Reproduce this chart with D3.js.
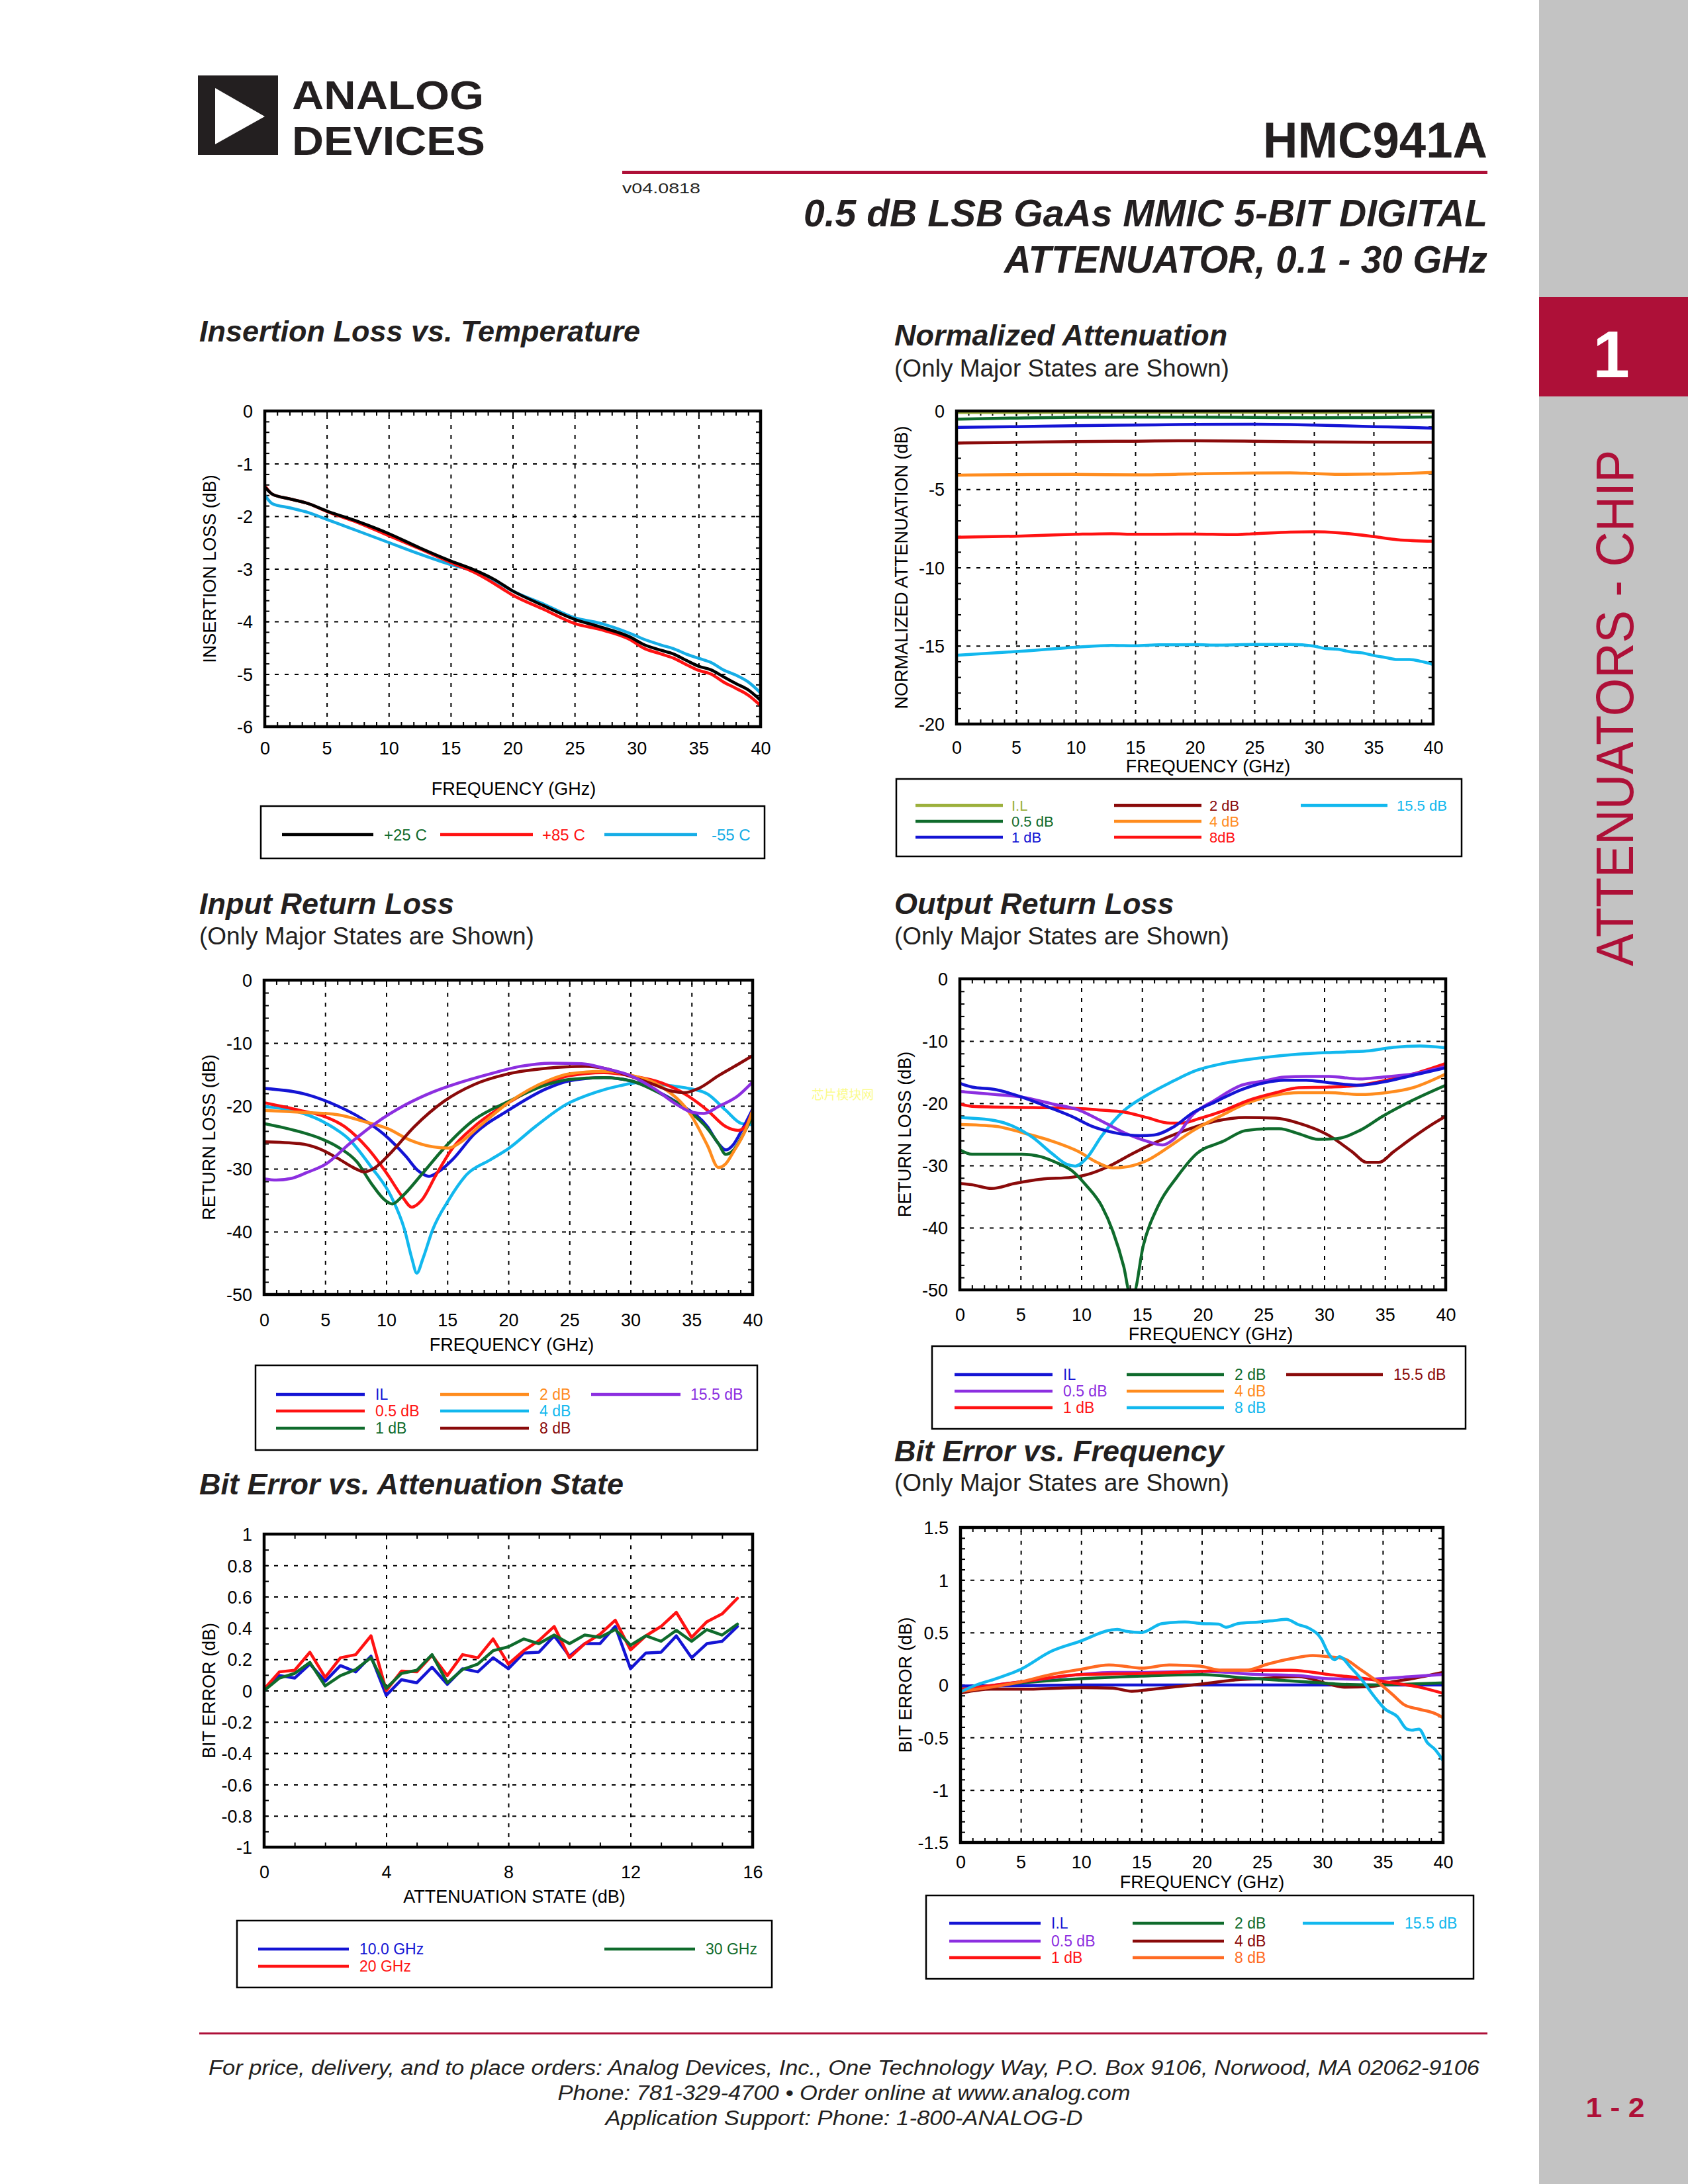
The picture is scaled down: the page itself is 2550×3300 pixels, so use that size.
<!DOCTYPE html>
<html><head><meta charset="utf-8">
<script src="https://cdn.jsdelivr.net/npm/d3@7"></script>
<style>body{margin:0;background:#fff}svg{display:block}</style>
</head><body>
<svg id="page" width="2550" height="3300"></svg>
<script>
// ---------------- DATA ----------------
// Insertion Loss vs Temperature  [GHz, dB]
const ilLabels = ['+25 C', '+85 C', '-55 C'];
const il25 = [[0.1,-1.47],[0.6,-1.58],[2,-1.67],[3.5,-1.76],[5,-1.9],[7.5,-2.1],[10,-2.33],[12.5,-2.6],[15,-2.85],[17,-3.03],[18.5,-3.2],[20,-3.42],[22.5,-3.7],[25,-3.96],[27,-4.1],[29.5,-4.3],[30.5,-4.43],[32,-4.55],[33,-4.62],[34,-4.74],[35,-4.85],[36,-4.92],[37,-5.05],[38,-5.18],[39,-5.3],[40,-5.5]];
const il85 = [[0.1,-1.45],[0.6,-1.58],[2,-1.67],[3.5,-1.76],[5,-1.91],[7.5,-2.12],[10,-2.37],[12.5,-2.62],[15,-2.88],[17,-3.08],[18.5,-3.28],[20,-3.5],[22.5,-3.77],[25,-4.04],[27,-4.15],[29.5,-4.35],[30.5,-4.5],[32,-4.62],[33,-4.7],[34,-4.82],[35,-4.93],[36,-5.0],[37,-5.15],[38,-5.27],[39,-5.4],[40,-5.6]];
const il55 = [[0.1,-1.63],[0.6,-1.76],[2,-1.84],[3.5,-1.93],[5,-2.06],[7.5,-2.28],[10,-2.5],[12.5,-2.72],[15,-2.92],[17,-3.05],[18.5,-3.22],[20,-3.42],[22.5,-3.67],[25,-3.93],[27,-4.03],[29.5,-4.23],[30.5,-4.33],[32,-4.45],[33,-4.52],[34,-4.62],[35,-4.7],[36,-4.78],[37,-4.92],[38,-5.02],[39,-5.15],[40,-5.36]];

// Normalized Attenuation [GHz, dB]
const naLabels = ['I.L', '0.5 dB', '1 dB', '2 dB', '4 dB', '8dB', '15.5 dB'];
const naIL  = [[0.1,-0.1],[10,-0.08],[20,-0.08],[30,-0.09],[40,-0.07]];
const na05  = [[0.1,-0.52],[5,-0.45],[10,-0.4],[15,-0.39],[20,-0.39],[25,-0.41],[30,-0.43],[35,-0.42],[40,-0.38]];
const na1   = [[0.1,-1.05],[5,-1.0],[10,-0.94],[15,-0.9],[20,-0.86],[25,-0.85],[28,-0.87],[30,-0.9],[35,-1.0],[38,-1.05],[40,-1.1]];
const na2   = [[0.1,-2.05],[5,-2.0],[10,-1.96],[15,-1.93],[20,-1.9],[25,-1.93],[30,-1.98],[35,-2.0],[40,-2.0]];
const na4   = [[0.1,-4.1],[5,-4.07],[10,-4.05],[15,-4.08],[20,-4.02],[25,-3.96],[28,-3.95],[30,-4.0],[32,-4.05],[35,-4.03],[38,-3.98],[40,-3.92]];
const na8   = [[0.1,-8.07],[5,-8.0],[10,-7.88],[13,-7.84],[15,-7.88],[20,-7.86],[23,-7.9],[25,-7.84],[28,-7.74],[30,-7.72],[32,-7.78],[35,-8.02],[37,-8.22],[40,-8.32]];
const na155 = [[0.1,-15.6],[5,-15.37],[10,-15.1],[13,-14.98],[15,-15.0],[17,-14.94],[20,-14.93],[22,-14.96],[25,-14.92],[28,-14.92],[30,-15.02],[31,-15.18],[32,-15.22],[33,-15.38],[34,-15.45],[35,-15.62],[36,-15.75],[37,-15.88],[38,-15.88],[39,-16.0],[40,-16.2]];

// Input Return Loss [GHz, dB]
const irlLabels = ['IL', '0.5 dB', '1 dB', '2 dB', '4 dB', '8 dB', '15.5 dB'];
const irlIL  = [[0,-17.2],[3.5,-18.2],[6,-20],[7.9,-21.9],[9.8,-24.5],[11.6,-28],[12.6,-30.3],[13.5,-31.2],[14.4,-30.3],[15.4,-28.6],[17.2,-24.5],[20,-20.7],[23.2,-17.2],[25,-16],[27.8,-15.5],[30,-16],[32.5,-18],[34.1,-19.8],[36.3,-23.3],[37.2,-26],[37.8,-27],[38.4,-26.2],[39.1,-23.9],[40,-20.5]];
const irl05  = [[0,-19.5],[2.9,-20.7],[4.8,-21.6],[6.6,-23.3],[8.5,-26.8],[10.1,-30.9],[11.3,-34.4],[12.1,-36.1],[12.9,-35],[14.1,-30.9],[15.4,-26.8],[17.2,-23.3],[20,-19.5],[23.2,-16.3],[25,-15.2],[27.8,-14.7],[30,-15.2],[32.5,-16.3],[34.7,-18.4],[36.3,-20.7],[37.8,-23.3],[38.8,-23.9],[39.4,-23.3],[40,-20.7]];
const irl1   = [[0,-22.8],[2.9,-24.1],[4.5,-25.1],[6,-26.5],[7.6,-28.9],[8.8,-32.4],[9.9,-35],[10.5,-35.6],[11.3,-34.4],[12.9,-30.9],[14.7,-26.8],[17.2,-22.2],[20,-19.3],[23.2,-16.6],[25,-15.8],[27.8,-15.5],[30,-16],[32.5,-18.1],[34.7,-20.7],[36.3,-23.6],[37.2,-26],[37.8,-27.7],[38.4,-27.1],[39.1,-25],[40,-21.6]];
const irl2   = [[0,-20.7],[2.9,-21],[6,-21.4],[8.2,-22.5],[10.1,-23.6],[11.9,-25.4],[13.8,-26.5],[15.1,-26.7],[16,-25.9],[17.6,-23.3],[20,-19.5],[23.2,-16],[25,-14.9],[27.8,-14.5],[30,-15.1],[32.5,-16.9],[35,-21.6],[36.3,-26.3],[37.2,-29.8],[37.8,-29.2],[38.4,-27.4],[39.4,-23.9],[40,-20.7]];
const irl4   = [[0,-20.1],[2.9,-21],[5.1,-22.8],[7,-25.4],[8.8,-29.8],[10.4,-34.4],[11.5,-39.7],[12.1,-44.3],[12.5,-46.6],[13,-44.3],[13.8,-39.7],[15.1,-35],[16.6,-30.9],[18.5,-28.6],[20,-26.8],[22.2,-23.3],[24.7,-19.8],[27.2,-17.8],[29.1,-16.8],[30.7,-16.3],[32.5,-16.6],[34.7,-17.2],[36.3,-18.1],[37.8,-20.7],[39.1,-22.8],[40,-23]];
const irl8   = [[0,-25.7],[2.9,-26],[4.5,-26.8],[6,-28.3],[7.3,-29.8],[8.2,-30.5],[9.1,-29.8],[10.4,-27.4],[12.3,-23.3],[14.7,-19.3],[17.2,-16.6],[20,-14.9],[23.2,-14],[26.3,-13.7],[27.8,-14],[30,-15.3],[31.9,-16.6],[33.1,-17.5],[34.4,-17.9],[35.6,-17.2],[37.2,-15.2],[38.8,-13.4],[40,-12]];
const irl155 = [[0,-31.6],[1,-31.8],[2.3,-31.5],[3.5,-30.6],[5.1,-29.2],[7,-26],[9.1,-22.8],[11.6,-19.8],[13.8,-17.8],[16,-16.3],[18.5,-14.9],[21,-13.7],[23.5,-13.2],[26,-13.3],[27.8,-14],[30,-15.2],[31.9,-17.2],[33.8,-19.8],[35,-21],[36,-21.2],[37.2,-20.1],[38.8,-18.4],[40,-16.2]];

// Output Return Loss [GHz, dB]
const orlLabels = ['IL', '0.5 dB', '1 dB', '2 dB', '4 dB', '8 dB', '15.5 dB'];
const orlIL  = [[0,-16.8],[1,-17.4],[2.9,-17.8],[5.1,-19],[7,-20.4],[9.2,-22.1],[11,-23.8],[12.9,-24.8],[14.8,-25.2],[16,-25.1],[17.6,-23.8],[19.2,-21.5],[21,-19.8],[23.2,-17.8],[25.1,-16.7],[26.7,-16.3],[28.5,-16.3],[30.4,-16.7],[32.9,-17.1],[34.8,-16.6],[37.3,-15.5],[40,-14.3]];
const orl05  = [[0,-18.1],[2.9,-18.6],[5.1,-19],[7.6,-20.1],[9.8,-21.1],[11.7,-22.9],[13.5,-24.7],[15.4,-26.1],[16.7,-26.7],[17.6,-25.8],[19.2,-21.8],[21,-19.5],[23.2,-17.1],[25.1,-16.4],[26.7,-15.8],[28.5,-15.7],[30.4,-15.7],[32.9,-16.1],[34.8,-15.8],[37.3,-15.3],[40,-14.1]];
const orl1   = [[0,-20.1],[1,-20.5],[6,-20.7],[9.2,-20.8],[12.3,-21.2],[13.5,-21.4],[15.4,-22.3],[17.3,-23.2],[18.2,-23.2],[19.8,-22.4],[21.7,-21.2],[23.8,-19.5],[26,-18.3],[27.9,-17.5],[30.4,-17.4],[32.9,-17.1],[35.1,-16.3],[37.3,-15.3],[40,-13.6]];
const orl2   = [[0,-27.5],[1,-28.2],[2.9,-28.2],[5.1,-28.2],[6.7,-28.6],[7.9,-29.5],[9.2,-30.8],[10.4,-33.2],[11.7,-36.6],[12.6,-40.6],[13.5,-46.3],[14,-50.5],[14.3,-50.5],[15.1,-42.9],[16.3,-36.6],[17.9,-31.8],[19.5,-28.1],[21.7,-26.1],[23.5,-24.4],[25.4,-24.1],[26.3,-24.1],[27.9,-24.9],[29.5,-25.8],[31,-25.7],[32.9,-24.4],[34.8,-22.1],[37.3,-19.5],[40,-17.1]];
const orl4   = [[0,-23.4],[2.9,-23.7],[5.1,-24.7],[7.6,-26.1],[9.8,-27.8],[11.3,-29.5],[12.6,-30.4],[13.8,-30.2],[15.4,-29.2],[17.3,-26.9],[19.2,-24.4],[21.7,-21.8],[23.5,-20.1],[26,-18.7],[27.9,-18.3],[30.4,-18.3],[32.9,-18.6],[35.1,-18.3],[37.3,-17.5],[40,-15.3]];
const orl8   = [[0,-22.3],[2.9,-22.8],[4.5,-23.8],[6,-25.5],[7.6,-28.1],[8.8,-29.8],[9.5,-30.1],[10.4,-28.9],[11.7,-25.2],[13.5,-21.2],[15.4,-18.7],[17.3,-16.7],[19.5,-14.7],[21.7,-13.6],[24.8,-12.7],[27.9,-12.1],[31,-11.8],[33.5,-11.6],[35.7,-11],[37.9,-10.8],[40,-11.1]];
const orl155 = [[0,-32.9],[1,-33.1],[2.6,-33.7],[4.5,-32.9],[6.7,-32.2],[9.2,-31.9],[10.4,-31.5],[12.3,-30.1],[14.2,-28.1],[16,-26.4],[18.5,-24.4],[21,-22.9],[23.5,-22.3],[26,-22.4],[27.9,-23.2],[30.4,-25.2],[32.3,-27.8],[33.5,-29.5],[34.5,-29.5],[35.7,-27.8],[37.3,-25.5],[38.8,-23.5],[40,-22.1]];

// Bit Error vs Attenuation State
const beLabels = ['10.0 GHz', '20 GHz', '30 GHz'];
const beStates = [0,0.5,1,1.5,2,2.5,3,3.5,4,4.5,5,5.5,6,6.5,7,7.5,8,8.5,9,9.5,10,10.5,11,11.5,12,12.5,13,13.5,14,14.5,15,15.5];
const be10 = [0,0.096,0.08,0.17,0.06,0.16,0.12,0.22,-0.03,0.07,0.05,0.15,0.04,0.14,0.12,0.21,0.14,0.24,0.245,0.35,0.22,0.30,0.30,0.41,0.14,0.24,0.245,0.35,0.21,0.30,0.315,0.41];
const be20 = [0.01,0.12,0.13,0.245,0.085,0.21,0.23,0.35,0.0,0.125,0.12,0.225,0.096,0.23,0.21,0.33,0.17,0.255,0.32,0.41,0.21,0.3,0.36,0.45,0.26,0.35,0.41,0.5,0.34,0.44,0.49,0.59];
const be30 = [0,0.08,0.11,0.18,0.03,0.096,0.135,0.21,0.015,0.11,0.13,0.23,0.05,0.135,0.17,0.255,0.28,0.33,0.30,0.355,0.30,0.355,0.34,0.39,0.29,0.35,0.315,0.385,0.315,0.39,0.355,0.425];

// Bit Error vs Frequency [GHz, dB]
const bfLabels = ['I.L', '0.5 dB', '1 dB', '2 dB', '4 dB', '8 dB', '15.5 dB'];
const bfIL  = [[0.1,-0.01],[10,0],[20,0],[30,0],[40,0]];
const bf05  = [[0.1,-0.04],[5,0.03],[10,0.1],[12.6,0.12],[15,0.12],[20,0.13],[24.8,0.1],[28,0.09],[30.5,0.06],[33.6,0.055],[37.4,0.08],[40,0.1]];
const bf1   = [[0.1,-0.04],[5,0.03],[10,0.1],[15,0.11],[20,0.13],[21.7,0.14],[24.8,0.14],[27.4,0.14],[30.5,0.1],[33.6,0.06],[35.8,0.02],[38,-0.02],[40,-0.08]];
const bf2   = [[0.1,-0.04],[5,0.02],[10,0.06],[15,0.085],[20,0.1],[23.3,0.07],[26.4,0.045],[28.6,0.03],[31.1,0.01],[34.3,0],[37.4,0.01],[40,0.02]];
const bf4   = [[0.1,-0.075],[2.5,-0.04],[5,-0.04],[10,-0.025],[12.6,-0.03],[14.2,-0.06],[16,-0.04],[20,0.01],[23,0.05],[24.8,0.06],[28,0.08],[30.5,0.01],[31.8,-0.02],[34,-0.015],[35.8,0.03],[37.4,0.06],[40,0.12]];
const bf8   = [[0.1,-0.06],[5,0.03],[7.5,0.1],[10,0.15],[12.3,0.19],[13.5,0.18],[15,0.16],[17.3,0.19],[19.8,0.18],[21.7,0.14],[23.6,0.14],[25.5,0.2],[27.4,0.25],[29.2,0.28],[30.5,0.27],[31.8,0.25],[33,0.16],[34.3,0.055],[35.8,-0.09],[36.8,-0.19],[38,-0.23],[39.3,-0.27],[40,-0.31]];
const bf155 = [[0.1,-0.06],[1.3,0],[2.8,0.055],[5,0.15],[7.5,0.32],[10,0.42],[12.3,0.52],[13,0.53],[13.8,0.51],[15,0.5],[16.7,0.585],[18.6,0.6],[20,0.585],[21.4,0.58],[22,0.55],[23,0.585],[24.8,0.6],[26.1,0.615],[27,0.625],[28,0.575],[28.9,0.54],[29.9,0.44],[30.5,0.3],[31,0.24],[31.4,0.27],[32.4,0.16],[33.3,0.045],[34.3,-0.11],[35.2,-0.23],[36.2,-0.3],[37,-0.42],[37.4,-0.43],[38,-0.42],[38.7,-0.55],[39.3,-0.61],[40,-0.72]];

// tick label lists
const freqTicks = [0,5,10,15,20,25,30,35,40];
const ilTicks = [0,-1,-2,-3,-4,-5,-6];
const naTicks = [0,-5,-10,-15,-20];
const rlTicks = [0,-10,-20,-30,-40,-50];
const stateTicks = [0,4,8,12,16];
const beTicks = [1,0.8,0.6,0.4,0.2,0,-0.2,-0.4,-0.6,-0.8,-1];
const bfTicks = [1.5,1,0.5,0,-0.5,-1,-1.5];

// ---------------- STYLE ----------------
const SANS = "'Liberation Sans', Arial, Helvetica, sans-serif";
const NARROW = "'Liberation Sans Narrow', 'Liberation Sans', Arial, sans-serif";
const INK = '#231f20';
const CRIMSON = '#ae1038';
const C = {
  blue:'#1414d4', red:'#ff1212', green:'#0f6b2c', orange:'#ff8c1e', cyan:'#12b8ee',
  dred:'#8a0a0a', purple:'#8c2fe0', olive:'#9cb03c', black:'#000000', orred:'#ff6a22'
};

const svg = d3.select('#page');
svg.append('rect').attr('width',2550).attr('height',3300).attr('fill','#ffffff');

// ---------------- PAGE FURNITURE ----------------
// sidebar
svg.append('rect').attr('x',2325).attr('y',0).attr('width',225).attr('height',3300).attr('fill','#c3c3c3');
svg.append('rect').attr('x',2325).attr('y',449).attr('width',225).attr('height',150).attr('fill',CRIMSON);
svg.append('text').attr('x',2434).attr('y',570).attr('text-anchor','middle').attr('font-family',SANS)
  .attr('font-weight','bold').attr('font-size',100).attr('fill','#fff').text('1');
svg.append('text').attr('transform','translate(2438,1070) rotate(-90)').attr('y',29).attr('text-anchor','middle')
  .attr('font-family',NARROW).attr('font-size',80).attr('fill',CRIMSON)
  .attr('textLength',780).attr('lengthAdjust','spacingAndGlyphs').text('ATTENUATORS - CHIP');
svg.append('text').attr('x',2440).attr('y',3199).attr('text-anchor','middle').attr('font-family',SANS)
  .attr('font-weight','bold').attr('font-size',42).attr('fill',CRIMSON)
  .attr('textLength',89).attr('lengthAdjust','spacingAndGlyphs').text('1 - 2');

// logo
svg.append('rect').attr('x',299).attr('y',114).attr('width',121).attr('height',120).attr('fill','#231f20');
svg.append('path').attr('d','M325,133 L400,176 L325,218 Z').attr('fill','#fff');
svg.append('text').attr('x',441).attr('y',165).attr('font-family',NARROW).attr('font-weight','bold').attr('font-size',62)
  .attr('fill','#231f20').attr('textLength',290).attr('lengthAdjust','spacingAndGlyphs').text('ANALOG');
svg.append('text').attr('x',441).attr('y',234).attr('font-family',NARROW).attr('font-weight','bold').attr('font-size',62)
  .attr('fill','#231f20').attr('textLength',292).attr('lengthAdjust','spacingAndGlyphs').text('DEVICES');

// header
svg.append('text').attr('x',2247).attr('y',238).attr('text-anchor','end').attr('font-family',NARROW).attr('font-weight','bold')
  .attr('font-size',76).attr('fill',INK).attr('textLength',339).attr('lengthAdjust','spacingAndGlyphs').text('HMC941A');
svg.append('rect').attr('x',940).attr('y',258).attr('width',1307).attr('height',5).attr('fill',CRIMSON);
svg.append('text').attr('x',940).attr('y',292).attr('font-family',NARROW).attr('font-size',22).attr('fill',INK)
  .attr('textLength',118).attr('lengthAdjust','spacingAndGlyphs').text('v04.0818');
svg.append('text').attr('x',2247).attr('y',342).attr('text-anchor','end').attr('font-family',NARROW).attr('font-weight','bold')
  .attr('font-style','italic').attr('font-size',58).attr('fill',INK).attr('textLength',1033).attr('lengthAdjust','spacingAndGlyphs')
  .text('0.5 dB LSB GaAs MMIC 5-BIT DIGITAL');
svg.append('text').attr('x',2247).attr('y',412).attr('text-anchor','end').attr('font-family',NARROW).attr('font-weight','bold')
  .attr('font-style','italic').attr('font-size',58).attr('fill',INK).attr('textLength',730).attr('lengthAdjust','spacingAndGlyphs')
  .text('ATTENUATOR, 0.1 - 30 GHz');

// footer
svg.append('rect').attr('x',301).attr('y',3071).attr('width',1946).attr('height',3).attr('fill',CRIMSON);
[['For price, delivery, and to place orders: Analog Devices, Inc., One Technology Way, P.O. Box 9106, Norwood, MA 02062-9106',3135,1920],
 ['Phone: 781-329-4700 \u2022 Order online at www.analog.com',3173,865],
 ['Application Support: Phone: 1-800-ANALOG-D',3211,721]].forEach(r => {
  svg.append('text').attr('x',1275).attr('y',r[1]).attr('text-anchor','middle').attr('font-family',NARROW)
    .attr('font-style','italic').attr('font-size',31).attr('fill',INK)
    .attr('textLength',r[2]).attr('lengthAdjust','spacingAndGlyphs').text(r[0]);
});

// watermark
svg.append('text').attr('x',1226).attr('y',1661).attr('font-family',"'Noto Sans CJK SC', sans-serif")
  .attr('font-size',19).attr('fill','#fbfb8c').attr('textLength',94).attr('lengthAdjust','spacingAndGlyphs').text('芯片模块网');

// ---------------- CHART FUNCTION ----------------
function styleAxis(sel){ sel.select('.domain').remove(); sel.attr('font-family',SANS); return sel; }
const plain = d => String(d);

function drawChart(c) {
  const g = svg.append('g');
  const x = d3.scaleLinear().domain(c.xDomain).range([c.L, c.R]);
  const y = d3.scaleLinear().domain(c.yDomain).range([c.B, c.T]);
  const W = c.R - c.L, H = c.B - c.T;

  g.append('text').attr('x',c.titleX).attr('y',c.titleY).attr('font-family',SANS).attr('font-size',45)
    .attr('font-weight','bold').attr('font-style','italic').attr('fill',INK).text(c.title);
  if (c.subtitle) g.append('text').attr('x',c.titleX).attr('y',c.subY).attr('font-family',SANS).attr('font-size',37)
    .attr('fill',INK).text(c.subtitle);

  // dashed grid
  const gx = styleAxis(g.append('g').attr('transform',`translate(0,${c.B})`)
    .call(d3.axisBottom(x).tickValues(c.xGrid).tickSize(-H).tickFormat('')));
  const gy = styleAxis(g.append('g').attr('transform',`translate(${c.L},0)`)
    .call(d3.axisLeft(y).tickValues(c.yGrid).tickSize(-W).tickFormat('')));
  [gx, gy].forEach(s => s.selectAll('line').attr('stroke','#000').attr('stroke-width',2).attr('stroke-dasharray','6,9'));

  // minor ticks, all four sides, pointing inward
  const n = Math.round((c.xDomain[1]-c.xDomain[0])/c.xMinor);
  const xm = d3.range(n+1).map(i => c.xDomain[0] + i*c.xMinor);
  const m = Math.round((c.yDomain[1]-c.yDomain[0])/c.yMinor);
  const ym = d3.range(m+1).map(i => c.yDomain[0] + i*c.yMinor);
  const TK = 7;
  [
    g.append('g').attr('transform',`translate(0,${c.B})`).call(d3.axisBottom(x).tickValues(xm).tickSize(-TK).tickFormat('')),
    g.append('g').attr('transform',`translate(0,${c.T})`).call(d3.axisTop(x).tickValues(xm).tickSize(-TK).tickFormat('')),
    g.append('g').attr('transform',`translate(${c.L},0)`).call(d3.axisLeft(y).tickValues(ym).tickSize(-TK).tickFormat('')),
    g.append('g').attr('transform',`translate(${c.R},0)`).call(d3.axisRight(y).tickValues(ym).tickSize(-TK).tickFormat(''))
  ].forEach(s => { styleAxis(s); s.selectAll('line').attr('stroke','#000').attr('stroke-width',2); });

  // series
  const clipId = 'clip' + c.id;
  g.append('clipPath').attr('id',clipId).append('rect').attr('x',c.L).attr('y',c.T).attr('width',W).attr('height',H);
  const line = d3.line().x(d => x(d[0])).y(d => y(d[1])).curve(c.curve || d3.curveMonotoneX);
  const sg = g.append('g').attr('clip-path',`url(#${clipId})`);
  c.series.forEach(s => sg.append('path').attr('d', line(s.data)).attr('fill','none')
    .attr('stroke',s.color).attr('stroke-width',4.5).attr('stroke-linejoin','round').attr('stroke-linecap','round'));

  // frame
  g.append('rect').attr('x',c.L).attr('y',c.T).attr('width',W).attr('height',H)
    .attr('fill','none').attr('stroke','#000').attr('stroke-width',4.5);

  // tick labels
  const xl = styleAxis(g.append('g').attr('transform',`translate(0,${c.B})`)
    .call(d3.axisBottom(x).tickValues(c.xLabels).tickSize(0).tickFormat(plain)));
  xl.attr('font-size',27);
  xl.selectAll('text').attr('y', c.xLabY - c.B).attr('dy',0).attr('fill','#000');
  const yl = styleAxis(g.append('g').attr('transform',`translate(${c.L},0)`)
    .call(d3.axisLeft(y).tickValues(c.yLabels).tickSize(0).tickPadding(18).tickFormat(plain)));
  yl.attr('font-size',27);
  yl.selectAll('text').attr('dy','0.36em').attr('fill','#000');

  // axis titles
  g.append('text').attr('x',c.xTitleX).attr('y',c.xTitleY).attr('text-anchor','middle').attr('font-family',SANS)
    .attr('font-size',27).attr('fill','#000').text(c.xTitle);
  g.append('text').attr('transform',`translate(${c.L - 84},${(c.T + c.B)/2}) rotate(-90)`).attr('y',10)
    .attr('text-anchor','middle').attr('font-family',SANS).attr('font-size',27).attr('fill','#000').text(c.yTitle);

  // legend
  const lg = c.legend;
  g.append('rect').attr('x',lg.x).attr('y',lg.y).attr('width',lg.w).attr('height',lg.h)
    .attr('fill','none').attr('stroke','#000').attr('stroke-width',2.5);
  c.series.forEach(s => {
    const col = lg.cols[s.slot[0]], ry = lg.rows[s.slot[1]];
    g.append('line').attr('x1',col[0]).attr('x2',col[1]).attr('y1',ry).attr('y2',ry)
      .attr('stroke',s.color).attr('stroke-width',4.5);
    g.append('text').attr('x',col[2]).attr('y',ry + lg.fs*0.36).attr('font-family',SANS).attr('font-size',lg.fs)
      .attr('fill',s.textColor || s.color).text(s.label);
  });
}

// ---------------- CHARTS ----------------
drawChart({
  id:1, title:'Insertion Loss vs. Temperature', titleX:301, titleY:516,
  L:400, R:1149, T:621, B:1098, xDomain:[0,40], yDomain:[-6,0],
  xGrid:[5,10,15,20,25,30,35], yGrid:[-1,-2,-3,-4,-5], xMinor:1, yMinor:0.2,
  xLabels:freqTicks, yLabels:ilTicks, xLabY:1140,
  xTitle:'FREQUENCY (GHz)', xTitleX:776, xTitleY:1201, yTitle:'INSERTION LOSS (dB)',
  series:[
    {data:il55, color:'#16ade6', label:ilLabels[2], slot:[2,0]},
    {data:il85, color:C.red, label:ilLabels[1], slot:[1,0]},
    {data:il25, color:C.black, textColor:C.green, label:ilLabels[0], slot:[0,0]}
  ],
  legend:{x:394, y:1218, w:761, h:79, fs:24, rows:[1261], cols:[[426,564,580],[665,805,819],[913,1053,1075]]}
});

drawChart({
  id:2, title:'Normalized Attenuation', subtitle:'(Only Major States are Shown)', titleX:1351, titleY:522, subY:569,
  L:1445, R:2165, T:621, B:1094, xDomain:[0,40], yDomain:[-20,0],
  xGrid:[5,10,15,20,25,30,35], yGrid:[-5,-10,-15], xMinor:1, yMinor:1,
  xLabels:freqTicks, yLabels:naTicks, xLabY:1139,
  xTitle:'FREQUENCY (GHz)', xTitleX:1825, xTitleY:1167, yTitle:'NORMALIZED ATTENUATION (dB)',
  series:[
    {data:na155, color:C.cyan, label:naLabels[6], slot:[2,0]},
    {data:na8, color:C.red, label:naLabels[5], slot:[1,2]},
    {data:na4, color:C.orange, label:naLabels[4], slot:[1,1]},
    {data:na2, color:C.dred, label:naLabels[3], slot:[1,0]},
    {data:na1, color:C.blue, label:naLabels[2], slot:[0,2]},
    {data:na05, color:C.green, label:naLabels[1], slot:[0,1]},
    {data:naIL, color:C.olive, label:naLabels[0], slot:[0,0]}
  ],
  legend:{x:1354, y:1177, w:854, h:117, fs:22, rows:[1217,1241,1265], cols:[[1383,1515,1528],[1683,1815,1827],[1965,2096,2110]]}
});

drawChart({
  id:3, title:'Input Return Loss', subtitle:'(Only Major States are Shown)', titleX:301, titleY:1381, subY:1427,
  L:399, R:1137, T:1481, B:1956, xDomain:[0,40], yDomain:[-50,0],
  xGrid:[5,10,15,20,25,30,35], yGrid:[-10,-20,-30,-40], xMinor:1, yMinor:2,
  xLabels:freqTicks, yLabels:rlTicks, xLabY:2004,
  xTitle:'FREQUENCY (GHz)', xTitleX:773, xTitleY:2041, yTitle:'RETURN LOSS (dB)',
  series:[
    {data:irl4, color:C.cyan, label:irlLabels[4], slot:[1,1]},
    {data:irlIL, color:C.blue, label:irlLabels[0], slot:[0,0]},
    {data:irl05, color:C.red, label:irlLabels[1], slot:[0,1]},
    {data:irl1, color:C.green, label:irlLabels[2], slot:[0,2]},
    {data:irl2, color:C.orange, label:irlLabels[3], slot:[1,0]},
    {data:irl8, color:C.dred, label:irlLabels[5], slot:[1,2]},
    {data:irl155, color:C.purple, label:irlLabels[6], slot:[2,0]}
  ],
  legend:{x:386, y:2063, w:758, h:128, fs:23, rows:[2107,2132,2158], cols:[[417,551,567],[665,799,815],[893,1028,1043]]}
});

drawChart({
  id:4, title:'Output Return Loss', subtitle:'(Only Major States are Shown)', titleX:1351, titleY:1381, subY:1427,
  L:1450, R:2184, T:1479, B:1949, xDomain:[0,40], yDomain:[-50,0],
  xGrid:[5,10,15,20,25,30,35], yGrid:[-10,-20,-30,-40], xMinor:1, yMinor:2,
  xLabels:freqTicks, yLabels:rlTicks, xLabY:1996,
  xTitle:'FREQUENCY (GHz)', xTitleX:1829, xTitleY:2025, yTitle:'RETURN LOSS (dB)',
  series:[
    {data:orl155, color:C.dred, label:orlLabels[6], slot:[2,0]},
    {data:orl2, color:C.green, label:orlLabels[3], slot:[1,0]},
    {data:orl4, color:C.orange, label:orlLabels[4], slot:[1,1]},
    {data:orl8, color:C.cyan, label:orlLabels[5], slot:[1,2]},
    {data:orl1, color:C.red, label:orlLabels[2], slot:[0,2]},
    {data:orl05, color:C.purple, label:orlLabels[1], slot:[0,1]},
    {data:orlIL, color:C.blue, label:orlLabels[0], slot:[0,0]}
  ],
  legend:{x:1408, y:2034, w:806, h:125, fs:23, rows:[2077,2102,2127], cols:[[1442,1590,1606],[1702,1849,1865],[1943,2089,2105]]}
});

drawChart({
  id:5, title:'Bit Error vs. Attenuation State', titleX:301, titleY:2258,
  L:399, R:1137, T:2318, B:2791, xDomain:[0,16], yDomain:[-1,1],
  xGrid:[4,8,12], yGrid:[0.8,0.6,0.4,0.2,0,-0.2,-0.4,-0.6,-0.8], xMinor:1, yMinor:0.1,
  xLabels:stateTicks, yLabels:beTicks, xLabY:2838,
  xTitle:'ATTENUATION STATE (dB)', xTitleX:777, xTitleY:2875, yTitle:'BIT ERROR (dB)',
  curve:d3.curveLinear,
  series:[
    {data:beStates.map((s,i)=>[s,be10[i]]), color:C.blue, label:beLabels[0], slot:[0,0]},
    {data:beStates.map((s,i)=>[s,be20[i]]), color:C.red, label:beLabels[1], slot:[0,1]},
    {data:beStates.map((s,i)=>[s,be30[i]]), color:C.green, label:beLabels[2], slot:[1,0]}
  ],
  legend:{x:358, y:2902, w:808, h:101, fs:23, rows:[2945,2971], cols:[[390,527,543],[913,1050,1066]]}
});

drawChart({
  id:6, title:'Bit Error vs. Frequency', subtitle:'(Only Major States are Shown)', titleX:1351, titleY:2208, subY:2253,
  L:1451, R:2180, T:2308, B:2784, xDomain:[0,40], yDomain:[-1.5,1.5],
  xGrid:[5,10,15,20,25,30,35], yGrid:[1,0.5,0,-0.5,-1], xMinor:1, yMinor:0.1,
  xLabels:freqTicks, yLabels:bfTicks, xLabY:2823,
  xTitle:'FREQUENCY (GHz)', xTitleX:1816, xTitleY:2853, yTitle:'BIT ERROR (dB)',
  series:[
    {data:bfIL, color:C.blue, label:bfLabels[0], slot:[0,0]},
    {data:bf4, color:C.dred, label:bfLabels[4], slot:[1,1]},
    {data:bf2, color:C.green, label:bfLabels[3], slot:[1,0]},
    {data:bf05, color:C.purple, label:bfLabels[1], slot:[0,1]},
    {data:bf1, color:C.red, label:bfLabels[2], slot:[0,2]},
    {data:bf8, color:C.orred, label:bfLabels[5], slot:[1,2]},
    {data:bf155, color:C.cyan, label:bfLabels[6], slot:[2,0]}
  ],
  legend:{x:1399, y:2864, w:827, h:126, fs:23, rows:[2906,2933,2958], cols:[[1434,1572,1588],[1711,1849,1865],[1968,2106,2122]]}
});
</script>
</body></html>
